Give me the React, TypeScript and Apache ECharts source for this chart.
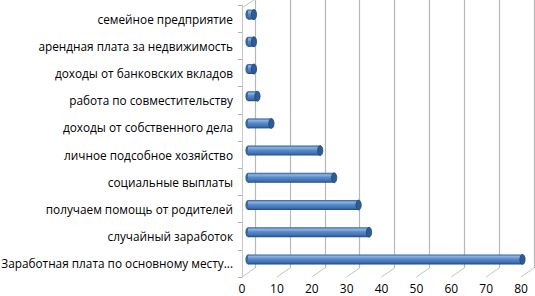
import React, { useEffect, useRef } from "react";
import * as echarts from "echarts";

const categories = [
  "семейное предприятие",
  "арендная плата за недвижимость",
  "доходы от банковских вкладов",
  "работа по совместительству",
  "доходы от собственного дела",
  "личное подсобное хозяйство",
  "социальные выплаты",
  "получаем помощь от родителей",
  "случайный заработок",
  "Заработная плата по основному месту...",
];
const values = [2, 2, 2, 3, 7, 21, 25, 32, 35, 79];
const xTicks = [0, 10, 20, 30, 40, 50, 60, 70, 80];

const DX = 13;
const DY = -9;

export default function App() {
  const ref = useRef<HTMLDivElement>(null);
  useEffect(() => {
    if (!ref.current) return;
    const chart = echarts.init(ref.current, undefined, { renderer: "svg" });
    const font = "'Open Sans', sans-serif";
    const option: any = {
      animation: false,
      backgroundColor: "#ffffff",
      grid: [
        { left: 242, width: 279, top: 5, height: 272, containLabel: false, outerBoundsMode: "none" },
        {
          left: 242 + DX,
          width: 279,
          top: 5 + DY + 4,
          height: 272 - 4,
          containLabel: false,
          outerBoundsMode: "none",
        },
      ],
      xAxis: [
        {
          gridIndex: 0,
          type: "value",
          min: 0,
          max: 80,
          interval: 10,
          axisLine: { show: false },
          axisTick: { show: false },
          splitLine: { show: false },
          axisLabel: { color: "#000", fontSize: 12, fontFamily: font, margin: 5 },
        },
        {
          gridIndex: 1,
          type: "value",
          min: 0,
          max: 80,
          interval: 10,
          axisLine: { show: false },
          axisTick: { show: false },
          axisLabel: { show: false },
          splitLine: { show: true, lineStyle: { color: "#b8b8b8", width: 1.2 } },
        },
      ],
      yAxis: [
        {
          gridIndex: 0,
          type: "category",
          inverse: true,
          data: categories,
          axisLine: { show: true, lineStyle: { color: "#c8c8c8" } },
          axisTick: { show: true, length: 4, lineStyle: { color: "#b0b0b0" } },
          splitLine: { show: false },
          axisLabel: {
            color: "#000",
            fontSize: 11.8,
            fontFamily: font,
            margin: 9,
            overflow: "none",
          },
        },
        {
          gridIndex: 1,
          type: "category",
          inverse: true,
          data: categories,
          show: false,
        },
      ],
      series: [
        {
          type: "custom",
          xAxisIndex: 0,
          yAxisIndex: 0,
          data: xTicks.map((t) => [t]),
          silent: true,
          z: 1,
          renderItem: (params: any, api: any) => {
            const cs = params.coordSys;
            const v = api.value(0);
            const x = api.coord([v, 0])[0];
            const bottom = cs.y + cs.height;
            const children: any[] = [
              {
                type: "line",
                shape: { x1: x, y1: bottom, x2: x + DX, y2: bottom + DY },
                style: { stroke: "#c4c4c4", lineWidth: 1 },
              },
            ];
            if (v === 0) {
              children.push({
                type: "line",
                shape: { x1: cs.x, y1: cs.y + 3, x2: cs.x + DX, y2: cs.y + 3 + DY },
                style: { stroke: "#c4c4c4", lineWidth: 1 },
              });
            }
            return { type: "group", children };
          },
        },
        {
          type: "custom",
          xAxisIndex: 0,
          yAxisIndex: 0,
          data: values.map((v, i) => [v, i]),
          encode: { x: 0, y: 1 },
          silent: true,
          z: 5,
          renderItem: (params: any, api: any) => {
            const v = api.value(0);
            const idx = api.value(1);
            const s = api.coord([0, idx]);
            const e = api.coord([v, idx]);
            const h = 10;
            const x0 = s[0] + 6;
            const x1 = e[0] + 5;
            const cy = s[1] - 4;
            const rx = 2.6;
            const grad = new echarts.graphic.LinearGradient(0, 0, 0, 1, [
              { offset: 0, color: "#33619c" },
              { offset: 0.22, color: "#8db4e3" },
              { offset: 0.45, color: "#5a8bcb" },
              { offset: 0.8, color: "#3f6fae" },
              { offset: 1, color: "#22477a" },
            ]);
            return {
              type: "group",
              children: [
                {
                  type: "ellipse",
                  shape: { cx: x0, cy, rx, ry: h / 2 },
                  style: { fill: "#3a68a6" },
                },
                {
                  type: "rect",
                  shape: { x: x0, y: cy - h / 2, width: Math.max(x1 - x0, 0.5), height: h },
                  style: { fill: grad },
                },
                {
                  type: "ellipse",
                  shape: { cx: x1, cy, rx, ry: h / 2 },
                  style: { fill: "#2f5c95", stroke: "#1f4270", lineWidth: 0.8 },
                },
              ],
            };
          },
        },
      ],
    };
    chart.setOption(option);
    return () => chart.dispose();
  }, []);
  return <div ref={ref} style={{ width: 535, height: 296, position: "absolute", left: 0, top: 0 }} />;
}
